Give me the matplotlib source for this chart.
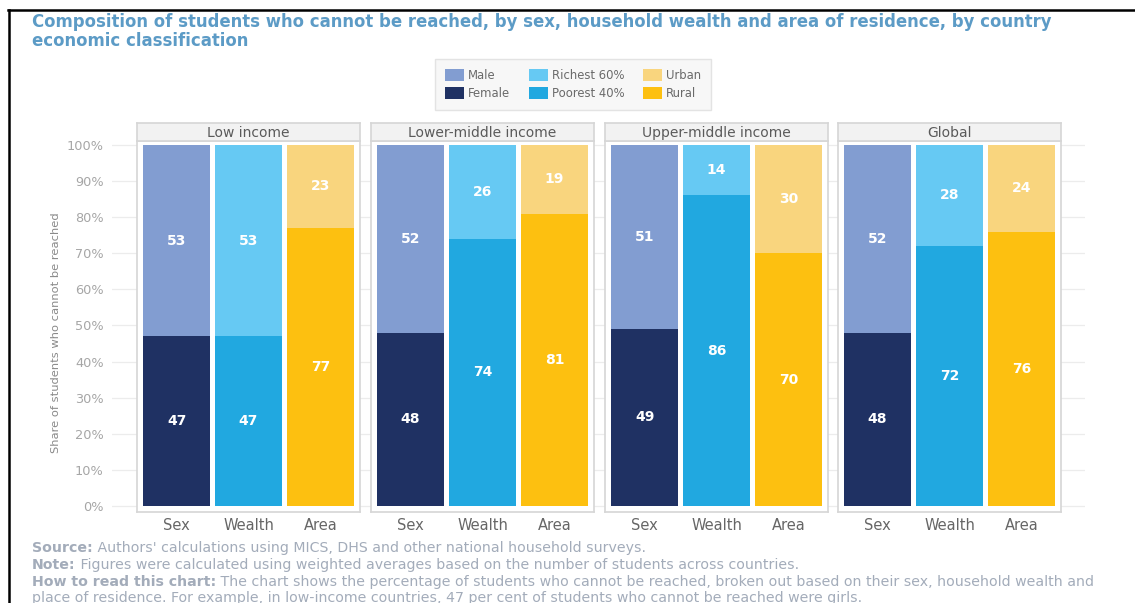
import matplotlib.pyplot as plt
from matplotlib.lines import Line2D
from matplotlib.patches import Patch

plt.rcParams['font.family'] = ['DejaVu Sans']

W, H = 1135, 603

groups = ['Low income', 'Lower-middle income', 'Upper-middle income', 'Global']
dims = ['Sex', 'Wealth', 'Area']

# bottom segment (Female / Poorest 40% / Rural) and top segment (Male / Richest 60% / Urban)
bottom_vals = {
    'Low income': [47, 47, 77],
    'Lower-middle income': [48, 74, 81],
    'Upper-middle income': [49, 86, 70],
    'Global': [48, 72, 76],
}
top_vals = {
    'Low income': [53, 53, 23],
    'Lower-middle income': [52, 26, 19],
    'Upper-middle income': [51, 14, 30],
    'Global': [52, 28, 24],
}

bottom_names = ['Female', 'Poorest 40%', 'Rural']
top_names = ['Male', 'Richest 60%', 'Urban']
bottom_colors = ['#1f3163', '#21a8e0', '#fdc010']
top_colors = ['#829dd1', '#66c9f3', '#f9d57e']

yticks = [0, 10, 20, 30, 40, 50, 60, 70, 80, 90, 100]
ylim = (-1.7, 101.1)
frame_col = '#d6d6d6'


def px(x0, y0, x1, y1):
    return [x0 / W, 1 - y1 / H, (x1 - x0) / W, (y1 - y0) / H]


fig = plt.figure(figsize=(W / 100, H / 100), dpi=100)
renderer = fig.canvas.get_renderer()


def fit_width(t, target, vertical=False):
    ext = t.get_window_extent(renderer)
    cur = ext.height if vertical else ext.width
    t.set_fontsize(t.get_fontsize() * target / cur)


# shared background with gridlines and y ticks
bg = fig.add_axes(px(112, 141, 1085, 512))
bg.set_ylim(*ylim)
bg.set_xlim(0, 1)
bg.set_yticks(yticks)
bg.set_yticklabels([f'{t}%' for t in yticks], fontsize=9.3, color='#a6a6a6')
bg.set_xticks([])
bg.tick_params(axis='y', length=0, pad=6)
bg.grid(axis='y', color='#ececec', lw=0.9)
for s in bg.spines.values():
    s.set_visible(False)
bg.set_axisbelow(True)

panel_x = [137, 371, 605, 838]
pw = 223
for g, x0 in zip(groups, panel_x):
    ax = fig.add_axes(px(x0, 141, x0 + pw, 512))
    ax.set_facecolor('white')
    pos = range(len(dims))
    for i in pos:
        b = bottom_vals[g][i]
        t = top_vals[g][i]
        ax.bar(i, b, width=0.93, color=bottom_colors[i])
        ax.bar(i, t, bottom=b, width=0.93, color=top_colors[i])
        ax.text(i, b / 2, str(b), ha='center', va='center', color='white',
                fontsize=10, fontweight='bold')
        ax.text(i, b + t / 2, str(t), ha='center', va='center', color='white',
                fontsize=10, fontweight='bold')
    ax.set_xlim(-0.55, 2.55)
    ax.set_ylim(*ylim)
    ax.set_yticks([])
    ax.set_xticks(list(pos))
    ax.set_xticklabels(dims, fontsize=10.5, color='#666666')
    ax.tick_params(axis='x', length=0, pad=4)
    for s in ax.spines.values():
        s.set_color(frame_col)
        s.set_linewidth(1.2)

    strip = fig.add_axes(px(x0, 123, x0 + pw, 141))
    strip.set_facecolor('#f2f2f2')
    strip.set_xticks([])
    strip.set_yticks([])
    for s in strip.spines.values():
        s.set_color(frame_col)
        s.set_linewidth(1.2)
    strip.text(0.5, 0.45, g, ha='center', va='center', fontsize=10,
               color='#5a5a5a', transform=strip.transAxes)

ylab = fig.text(56 / W, 1 - 333 / H, 'Share of students who cannot be reached',
                rotation=90, ha='center', va='center', fontsize=9, color='#8a8a8a')
fit_width(ylab, 240, vertical=True)

# title
title_col = '#5c9bc6'
t1 = fig.text(32 / W, 1 - 22 / H,
              'Composition of students who cannot be reached, by sex, household wealth and area of residence, by country',
              ha='left', va='center', fontsize=11, fontweight='bold', color=title_col)
fit_width(t1, 1015)
fig.text(32 / W, 1 - 41 / H, 'economic classification',
         ha='left', va='center', fontsize=t1.get_fontsize(), fontweight='bold',
         color=title_col)

# legend
handles = []
for tn, bn, tc, bc in zip(top_names, bottom_names, top_colors, bottom_colors):
    handles.append(Patch(facecolor=tc, label=tn))
    handles.append(Patch(facecolor=bc, label=bn))
leg = fig.legend(handles=handles, ncol=3, loc='upper left',
                 bbox_to_anchor=(435 / W, 1 - 59 / H), fontsize=8.4,
                 frameon=True, fancybox=False, handlelength=1.63, handleheight=1.2,
                 columnspacing=1.6, handletextpad=0.35, labelspacing=0.45,
                 borderpad=0.85, borderaxespad=0)
leg.get_frame().set_facecolor('#f5f5f5')
leg.get_frame().set_edgecolor('#dddddd')
for t in leg.get_texts():
    t.set_color('#6a6a6a')

# notes under the chart
note_col = '#a3acba'
notes = [
    ('Source:', " Authors' calculations using MICS, DHS and other national household surveys."),
    ('Note:', ' Figures were calculated using weighted averages based on the number of students across countries.'),
    ('How to read this chart:', ' The chart shows the percentage of students who cannot be reached, broken out based on their sex, household wealth and'),
    ('', 'place of residence. For example, in low-income countries, 47 per cent of students who cannot be reached were girls.'),
]
note_y = [548, 565, 582, 598]

# size the notes so the longest line ends where it should
probe_b = fig.text(0, 0, notes[2][0], fontsize=9, fontweight='bold')
probe_r = fig.text(0, 0, notes[2][1], fontsize=9)
wsum = probe_b.get_window_extent(renderer).width + probe_r.get_window_extent(renderer).width
note_fs = 9 * 1061 / wsum
probe_b.remove()
probe_r.remove()

for (bold, rest), y in zip(notes, note_y):
    x = 32
    if bold:
        tb = fig.text(x / W, 1 - y / H, bold, ha='left', va='center', fontsize=note_fs,
                      fontweight='bold', color=note_col)
        x = tb.get_window_extent(renderer).x1
    fig.text(x / W, 1 - y / H, rest, ha='left', va='center', fontsize=note_fs,
             color=note_col)

# black frame along the top and left edges
fig.add_artist(Line2D([8 / W, 1], [1 - 10 / H, 1 - 10 / H], color='black', lw=1.8))
fig.add_artist(Line2D([9 / W, 9 / W], [0, 1 - 10 / H], color='black', lw=1.8))

fig.savefig('out.png', dpi=100)
